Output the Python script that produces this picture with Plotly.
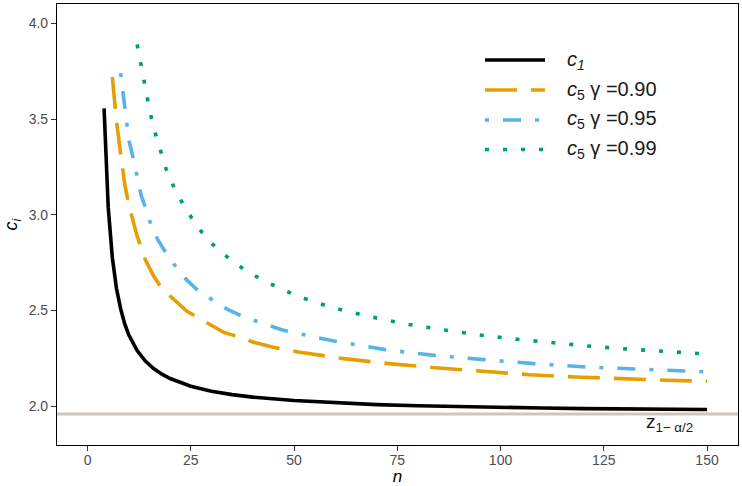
import plotly.graph_objects as go

# ---- data ----
n_c1 = [4, 5, 6, 7, 8, 9, 10, 12, 14, 16, 18, 20, 25, 30, 35, 40, 50, 60, 70, 80, 90, 100, 110, 120, 130, 140, 150]
c1 = [3.556, 3.04, 2.776, 2.616, 2.51, 2.43, 2.372, 2.291, 2.236, 2.197, 2.168, 2.145, 2.105, 2.079, 2.061, 2.048,
      2.030, 2.018, 2.009, 2.003, 1.998, 1.994, 1.991, 1.988, 1.986, 1.984, 1.983]

n_g90 = [6, 7, 8, 9, 10, 12, 14, 16, 18, 20, 24, 28, 33, 37, 40, 45, 51, 62, 73, 85, 96, 107, 118, 129, 140, 150]
c5_g90 = [3.72, 3.49, 3.32, 3.16, 3.05, 2.89, 2.765, 2.68, 2.615, 2.575, 2.497, 2.447, 2.386, 2.36, 2.336, 2.308,
          2.284, 2.249, 2.223, 2.200, 2.183, 2.165, 2.153, 2.143, 2.136, 2.131]

n_g95 = [8, 9, 10, 11, 12, 13, 14, 15, 17, 19, 21, 24, 27, 31, 34, 38, 42, 47, 54, 60, 72, 84, 96, 108, 121, 133, 145, 150]
c5_g95 = [3.74, 3.57, 3.39, 3.30, 3.19, 3.10, 3.04, 2.97, 2.87, 2.80, 2.74, 2.66, 2.60, 2.545, 2.505, 2.466, 2.437,
          2.40, 2.366, 2.34, 2.296, 2.266, 2.244, 2.223, 2.205, 2.193, 2.183, 2.18]

n_g99 = [12, 13, 14, 15, 16, 17, 18, 19, 21, 23, 26, 28, 31, 35, 39, 43, 47, 51, 55, 59, 68, 77, 86, 94, 103, 112,
         121, 130, 139, 150]
c5_g99 = [3.89, 3.77, 3.65, 3.55, 3.455, 3.38, 3.305, 3.24, 3.14, 3.06, 2.957, 2.90, 2.83, 2.759, 2.70, 2.653, 2.612,
          2.574, 2.545, 2.517, 2.47, 2.43, 2.40, 2.375, 2.352, 2.333, 2.315, 2.30, 2.287, 2.273]

z_crit = 1.96

x_ticks = [0, 25, 50, 75, 100, 125, 150]
y_ticks = [2.0, 2.5, 3.0, 3.5, 4.0]
y_tick_labels = ["2.0", "2.5", "3.0", "3.5", "4.0"]

legend_labels = ["<i>c<sub>1</sub></i>",
                 "<i>c</i><sub>5</sub> γ =0.90",
                 "<i>c</i><sub>5</sub> γ =0.95",
                 "<i>c</i><sub>5</sub> γ =0.99"]

# ---- styles ----
FONT = "Liberation Sans, Arial, sans-serif"
series = [
    (n_c1, c1, "#000000", "solid"),
    (n_g90, c5_g90, "#E69F00", "32px,14px"),
    (n_g95, c5_g95, "#56B4E9", "4px,14px,18px,14px"),
    (n_g99, c5_g99, "#009E73", "4px,14px"),
]
LW = 3.6

fig = go.Figure()

fig.add_hline(y=z_crit, line=dict(color="#CDC5C0", width=3), layer="below")

for (xs, ys, col, dash), lab in zip(series, legend_labels):
    fig.add_trace(go.Scatter(x=xs, y=ys, mode="lines", name=lab, showlegend=False,
                             line=dict(color=col, width=LW, dash=dash)))

# manual legend (keys + labels), positioned in paper coordinates
W, H = 742, 486
L, R, T, B = 57, 4, 4, 41
pw, ph = W - L - R, H - T - B


def px_x(p):
    return (p - L) / pw


def px_y(p):
    return 1 - (p - T) / ph


rows = [60, 90, 120, 149.5]
for (xs, ys, col, dash), lab, ry in zip(series, legend_labels, rows):
    fig.add_shape(type="line", xref="paper", yref="paper",
                  x0=px_x(485), x1=px_x(545), y0=px_y(ry), y1=px_y(ry),
                  line=dict(color=col, width=LW, dash=dash))
    fig.add_annotation(xref="paper", yref="paper", x=px_x(565), y=px_y(ry),
                       xanchor="left", yanchor="middle", showarrow=False,
                       text=lab, font=dict(size=20, color="#1A1A1A", family=FONT))

fig.add_annotation(x=141, y=1.915, xref="x", yref="y", showarrow=False,
                   text="z<sub>1− α/2</sub>", xanchor="center", yanchor="middle",
                   font=dict(size=19, color="#1A1A1A", family=FONT))

axis_common = dict(showgrid=False, zeroline=False, showline=True, linecolor="#000000", linewidth=1.2,
                   mirror=True, ticks="outside", ticklen=5, tickwidth=1, tickcolor="#333333",
                   tickfont=dict(size=14, color="#4D4D4D", family=FONT))

fig.update_xaxes(range=[-7.4, 157.5], tickvals=x_ticks, ticklabelstandoff=-3,
                 title=dict(text="<i>n</i>", standoff=5,
                            font=dict(size=17, color="#000000", family=FONT)),
                 **axis_common)
fig.update_yaxes(range=[1.798, 4.101], tickvals=y_ticks, ticktext=y_tick_labels,
                 title=dict(text="<i>c</i><sub><i>i</i></sub>", standoff=6,
                            font=dict(size=18, color="#000000", family=FONT)),
                 **axis_common)

fig.update_layout(width=W, height=H, margin=dict(l=L, r=R, t=T, b=B, autoexpand=False),
                  plot_bgcolor="#FFFFFF", paper_bgcolor="#FFFFFF", showlegend=False)

fig.write_html("out.html", config={"displayModeBar": False},
               post_script="document.body.style.margin='0';document.body.style.overflow='hidden';")
